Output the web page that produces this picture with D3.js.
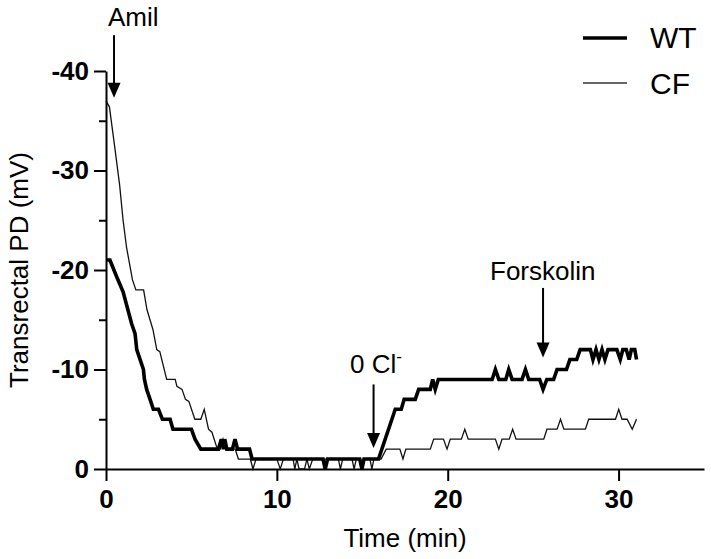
<!DOCTYPE html>
<html><head><meta charset="utf-8">
<script src="https://cdn.jsdelivr.net/npm/d3@7"></script>
<style>body{margin:0;background:#fff} text{font-family:Arial,"Liberation Sans",sans-serif;fill:#000}</style>
</head><body><svg id="c" width="711" height="559"></svg>
<script>
// ---- data (time in min, transrectal PD in mV) ----
const wtTime=[0,0.23,0.63,1.0,1.5,1.7,1.8,2.19,2.25,2.38,2.58,2.77,3.07,3.3,3.75,3.92,5.0,5.21,5.55,6.58,6.75,6.87,6.95,7.07,7.4,7.55,7.7,8.4,8.55,12.7,12.83,12.97,14.85,14.98,15.1,15.95,16.93,17.28,17.45,18.1,18.3,18.98,19.12,19.27,19.45,22.6,22.79,22.99,23.4,23.57,23.77,24.35,24.55,24.74,25.38,25.58,25.8,26.2,26.4,26.95,27.15,27.55,27.75,28.35,28.5,28.68,28.85,29.03,29.2,29.38,29.9,30.1,30.25,30.45,30.62,30.75,30.95,31.05];
const wtPD=[-21,-21,-19.3,-17.8,-14.6,-13.6,-12,-10,-9,-8,-7,-6,-6,-5,-5,-4,-4,-3,-2,-2,-3,-2,-3,-2,-2,-3,-2,-2,-1,-1,0,-1,-1,0,-1,-1,-6,-6,-7,-7,-8,-8,-9,-8,-9,-9,-10,-9,-9,-10,-9,-9,-10,-9,-9,-8,-9,-9,-10,-10,-11,-11,-12,-12,-11,-12,-11,-12,-11,-12,-12,-11,-12,-12,-11,-12,-12,-11];
const cfTime=[0,0.2,0.5,0.8,1.0,1.2,1.55,1.75,2.2,2.4,2.75,2.97,3.15,3.55,4.05,4.15,4.45,4.65,4.85,5.2,5.55,5.75,6.0,6.2,6.48,6.68,6.85,7.0,7.56,7.75,8.45,8.6,8.78,10.0,10.2,10.38,10.95,11.05,11.17,11.3,11.62,11.76,11.9,12.1,13.6,13.72,13.85,14.4,14.52,14.65,14.9,15.0,15.12,15.45,15.56,15.68,16.1,16.4,17.2,17.38,17.55,18.98,19.18,19.75,19.96,20.15,20.8,21.0,21.2,22.79,22.99,23.18,23.6,23.8,24.0,25.62,25.81,26.4,26.6,26.8,28.06,28.25,29.82,30.01,30.2,30.5,30.8,31.05];
const cfPD=[-37,-36.4,-32.5,-28.5,-25,-22.3,-19,-18,-18,-16,-14,-12,-11.8,-9,-9,-8.3,-8,-7,-6.8,-5,-5,-6,-4,-3.7,-2.2,-2,-3,-2,-2,-1,-1,0,-1,-1,0,-1,-1,0,-1,0,0,-1,0,-1,-1,0,-1,-1,0,-1,-1,0,-1,-1,0,-1,-1,-2,-2,-1,-2,-2,-3,-3,-2,-3,-3,-4,-3,-3,-2,-3,-3,-4,-3,-3,-4,-4,-5,-4,-4,-5,-5,-6,-5,-5,-4,-5];
const xTicks=[0,10,20,30];
const yMajor=[0,-10,-20,-30,-40];
const yMinor=[-5,-15,-25,-35];
const seriesNames=["WT","CF"];
const arrowLabels=["Amil","0 Cl","Forskolin"];
const arrowTime=[0.47,15.66,25.58];
const arrowTop=[-43.6,-8.5,-18.2];
const arrowTip=[-37.3,-2.1,-11.2];

const svg=d3.select("#c");
const x=d3.scaleLinear().domain([0,35]).range([106,704]);
const y=d3.scaleLinear().domain([0,-40]).range([469,71]);

// axes
const gx=svg.append("g").attr("transform","translate(0,469)")
  .call(d3.axisBottom(x).tickValues(xTicks).tickSize(12).tickSizeOuter(0).tickPadding(9).tickFormat(d=>String(d)));
const gy=svg.append("g").attr("transform","translate(106,0)")
  .call(d3.axisLeft(y).tickValues(yMajor).tickSize(12).tickSizeOuter(0).tickPadding(5).tickFormat(d=>String(d)));
const gm=svg.append("g").attr("transform","translate(106,0)")
  .call(d3.axisLeft(y).tickValues(yMinor).tickSize(7).tickFormat(""));
gm.select(".domain").remove();
[gx,gy,gm].forEach(g=>{
  g.selectAll("path,line").attr("stroke","#000").attr("stroke-width",2);
  g.selectAll("text").attr("font-family","Arial, 'Liberation Sans', sans-serif")
   .attr("font-size",26).attr("font-weight","bold").attr("fill","#000");
});

// lines
const line=d3.line().x(d=>x(d[0])).y(d=>y(d[1]));
const cfData=cfTime.map((t,i)=>[t,cfPD[i]]);
const wtData=wtTime.map((t,i)=>[t,wtPD[i]]);
svg.append("path").datum(cfData).attr("d",line).attr("fill","none").attr("stroke","#111").attr("stroke-width",1.3);
svg.append("path").datum(wtData).attr("d",line).attr("fill","none").attr("stroke","#000").attr("stroke-width",3.6);

// axis titles
svg.append("text").attr("x",405).attr("y",547).attr("text-anchor","middle").attr("font-size",26).text("Time (min)");
svg.append("text").attr("transform","translate(28,270) rotate(-90)").attr("text-anchor","middle").attr("font-size",26).text("Transrectal PD (mV)");

// legend
const lg=svg.append("g");
[[38,48,3.6],[83,94,1.3]].forEach((p,i)=>{
  lg.append("line").attr("x1",583).attr("x2",627).attr("y1",p[0]).attr("y2",p[0]).attr("stroke",i?"#333":"#000").attr("stroke-width",p[2]);
  lg.append("text").attr("x",650).attr("y",p[1]).attr("font-size",30).text(seriesNames[i]);
});

// arrows
const labelPos=[[108,26],[350,373],[490,280]];
arrowTime.forEach((t,i)=>{
  const ax=x(t), yt=y(arrowTop[i]), yp=y(arrowTip[i]);
  svg.append("line").attr("x1",ax).attr("x2",ax).attr("y1",yt).attr("y2",yp-14).attr("stroke","#000").attr("stroke-width",2);
  svg.append("path").attr("d",`M${ax-6.5},${yp-15}L${ax+6.5},${yp-15}L${ax},${yp}Z`).attr("fill","#000");
  const tx=svg.append("text").attr("x",labelPos[i][0]).attr("y",labelPos[i][1]).attr("font-size",26).text(arrowLabels[i]);
  if(i===1) tx.append("tspan").attr("font-size",17).attr("dy",-11).text("-");
});
</script></body></html>
